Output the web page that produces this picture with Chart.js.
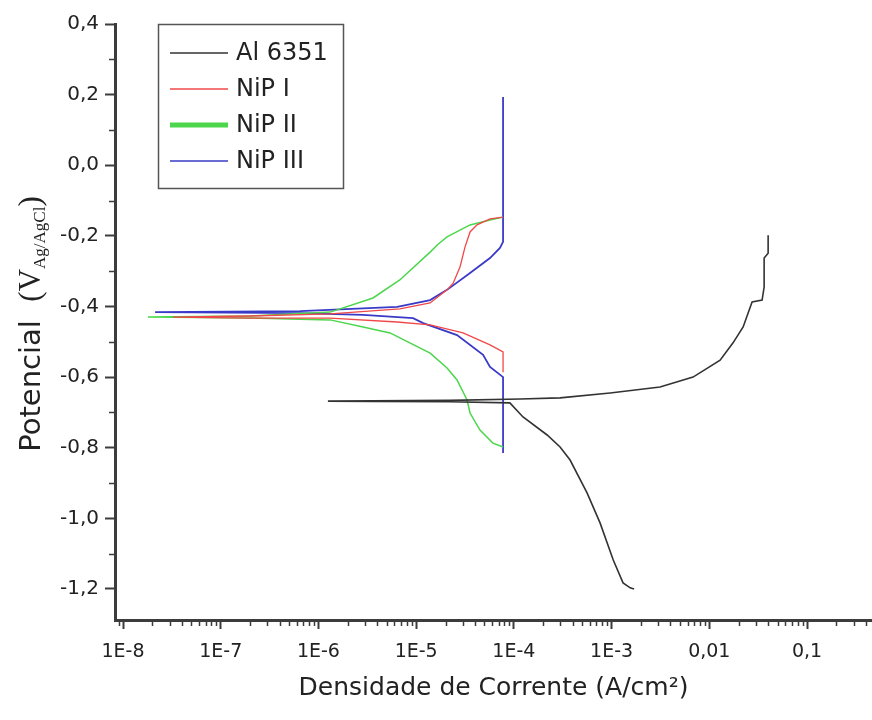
<!DOCTYPE html>
<html>
<head>
<meta charset="utf-8">
<script src="https://cdn.jsdelivr.net/npm/chart.js@4/dist/chart.umd.min.js"></script>
<style>
  body { margin: 0; background: #fff; }
  #wrap { width: 872px; height: 720px; }
</style>
</head>
<body>
<div id="wrap"><canvas id="tafel" width="872" height="720"></canvas></div>
<script>
// current density (A/cm2) and potential (V vs Ag/AgCl)
const al6351I = [1.70e-3, 1.55e-3, 1.31e-3, 1.04e-3, 7.62e-4, 5.61e-4, 3.76e-4, 2.97e-4, 2.19e-4, 1.24e-4, 9.1e-5, 2.22e-5, 3.62e-6, 1.25e-6, 3.62e-6, 2.22e-5, 1.16e-4, 2.97e-4, 9.66e-4, 3.13e-3, 6.82e-3, 1.29e-2, 1.75e-2, 2.22e-2, 2.74e-2, 3.47e-2, 3.64e-2, 3.64e-2, 4.0e-2, 4.0e-2];
const al6351E = [-1.200, -1.197, -1.183, -1.118, -1.013, -0.928, -0.835, -0.798, -0.764, -0.713, -0.673, -0.670, -0.669, -0.668, -0.667, -0.666, -0.662, -0.659, -0.645, -0.628, -0.600, -0.552, -0.503, -0.458, -0.387, -0.382, -0.345, -0.263, -0.249, -0.198];

const nip1I = [7.75e-5, 7.75e-5, 5.7e-5, 3.02e-5, 1.39e-5, 6.4e-6, 1.32e-6, 2.0e-7, 3.25e-8, 2.0e-7, 1.32e-6, 6.8e-6, 1.39e-5, 2.07e-5, 2.39e-5, 2.81e-5, 3.16e-5, 3.56e-5, 4.2e-5, 5.7e-5, 7.75e-5];
const nip1E = [-0.586, -0.529, -0.509, -0.475, -0.452, -0.444, -0.433, -0.433, -0.430, -0.427, -0.421, -0.407, -0.390, -0.353, -0.334, -0.288, -0.232, -0.189, -0.169, -0.152, -0.147];

const nip2I = [7.75e-5, 6.1e-5, 4.5e-5, 3.56e-5, 3.32e-5, 2.62e-5, 2.07e-5, 1.39e-5, 5.4e-6, 2.86e-6, 1.32e-6, 2.0e-7, 1.8e-8, 2.0e-7, 1.32e-6, 3.62e-6, 6.8e-6, 1.39e-5, 1.64e-5, 2.07e-5, 3.56e-5, 5.7e-5, 7.75e-5];
const nip2E = [-0.798, -0.787, -0.750, -0.702, -0.665, -0.608, -0.574, -0.532, -0.475, -0.458, -0.438, -0.433, -0.430, -0.427, -0.416, -0.376, -0.325, -0.246, -0.226, -0.203, -0.169, -0.155, -0.147];

const nip3I = [7.75e-5, 7.75e-5, 5.7e-5, 4.84e-5, 2.62e-5, 1.18e-5, 9.3e-6, 2.86e-6, 6.5e-7, 2.13e-8, 6.5e-7, 6.4e-6, 1.39e-5, 2.07e-5, 3.56e-5, 5.7e-5, 7.2e-5, 7.75e-5, 7.75e-5];
const nip3E = [-0.815, -0.600, -0.571, -0.537, -0.481, -0.447, -0.433, -0.424, -0.419, -0.416, -0.413, -0.401, -0.382, -0.353, -0.305, -0.263, -0.234, -0.217, 0.193];

const xTickValues = [1e-8, 1e-7, 1e-6, 1e-5, 1e-4, 1e-3, 1e-2, 1e-1];
const xTickLabels = ['1E-8', '1E-7', '1E-6', '1E-5', '1E-4', '1E-3', '0,01', '0,1'];
const yTickValues = [0.4, 0.2, 0.0, -0.2, -0.4, -0.6, -0.8, -1.0, -1.2];
const yTickLabels = ['0,4', '0,2', '0,0', '-0,2', '-0,4', '-0,6', '-0,8', '-1,0', '-1,2'];
const yMinorValues = [0.3, 0.1, -0.1, -0.3, -0.5, -0.7, -0.9, -1.1];

const toPoints = (xs, ys) => xs.map((x, i) => ({ x: x, y: ys[i] }));

// minor decade ticks 2..9
const xMinorValues = [9e-9];
for (let e = -8; e <= -1; e++) {
  for (let k = 2; k <= 9; k++) xMinorValues.push(k * Math.pow(10, e));
}

const axisColor = '#3c3c3c';
const textColor = '#222';

const minorTicks = {
  id: 'minorTicks',
  afterDraw(chart) {
    const { ctx, scales: { x, y } } = chart;
    ctx.save();
    ctx.strokeStyle = axisColor;
    ctx.lineWidth = 1.5;
    ctx.beginPath();
    xMinorValues.forEach(v => {
      if (v < x.min || v > x.max) return;
      const px = Math.round(x.getPixelForValue(v)) + 0.5;
      ctx.moveTo(px, x.top);
      ctx.lineTo(px, x.top + 6);
    });
    yMinorValues.forEach(v => {
      const py = Math.round(y.getPixelForValue(v)) + 0.5;
      ctx.moveTo(y.right - 6, py);
      ctx.lineTo(y.right, py);
    });
    ctx.stroke();
    ctx.restore();
  }
};

// y title with the Ag/AgCl subscript
const yTitle = {
  id: 'yTitle',
  afterDraw(chart) {
    const { ctx, chartArea } = chart;
    const parts = [
      { t: 'Potencial  ', f: '29px "DejaVu Sans"', dy: 0 },
      { t: '(V', f: '31px "Liberation Serif"', dy: 0 },
      { t: 'Ag/AgCl', f: '17px "Liberation Serif"', dy: 5 },
      { t: ')', f: '31px "Liberation Serif"', dy: 0 }
    ];
    ctx.save();
    let total = 0;
    parts.forEach(p => { ctx.font = p.f; p.w = ctx.measureText(p.t).width; total += p.w; });
    ctx.translate(40, (chartArea.top + chartArea.bottom) / 2 + 2);
    ctx.rotate(-Math.PI / 2);
    ctx.fillStyle = textColor;
    ctx.textBaseline = 'alphabetic';
    let cx = -total / 2;
    parts.forEach(p => {
      ctx.font = p.f;
      ctx.fillText(p.t, cx, p.dy);
      cx += p.w;
    });
    ctx.restore();
  }
};

const legendBox = {
  id: 'legendBox',
  afterDraw(chart) {
    const { ctx } = chart;
    const left = 158, top = 24, w = 185, h = 164;
    ctx.save();
    ctx.fillStyle = '#fff';
    ctx.fillRect(left, top, w, h);
    ctx.strokeStyle = '#555';
    ctx.lineWidth = 1.5;
    ctx.strokeRect(left + 0.5, top + 0.5, w, h);
    ctx.font = '24px "DejaVu Sans"';
    ctx.textBaseline = 'middle';
    chart.data.datasets.forEach((ds, i) => {
      const yy = top + 29 + i * 36;
      ctx.strokeStyle = ds.borderColor;
      ctx.lineWidth = ds.legendWidth;
      ctx.beginPath();
      ctx.moveTo(170, yy);
      ctx.lineTo(228, yy);
      ctx.stroke();
      ctx.fillStyle = textColor;
      ctx.fillText(ds.label, 236, yy + 1);
    });
    ctx.restore();
  }
};

new Chart(document.getElementById('tafel'), {
  type: 'scatter',
  data: {
    datasets: [
      { label: 'Al 6351', data: toPoints(al6351I, al6351E), borderColor: '#333333', borderWidth: 1.6, legendWidth: 1.5 },
      { label: 'NiP I', data: toPoints(nip1I, nip1E), borderColor: '#f04848', borderWidth: 1.3, legendWidth: 1.5 },
      { label: 'NiP II', data: toPoints(nip2I, nip2E), borderColor: '#4cd64c', borderWidth: 1.5, legendWidth: 5 },
      { label: 'NiP III', data: toPoints(nip3I, nip3E), borderColor: '#3a3ac8', borderWidth: 1.8, legendWidth: 1.5 }
    ]
  },
  options: {
    responsive: false,
    animation: false,
    showLine: true,
    layout: { padding: { top: 24, left: 0, right: 0, bottom: 0 } },
    elements: { point: { radius: 0 }, line: { tension: 0, fill: false } },
    plugins: { legend: { display: false }, tooltip: { enabled: false } },
    scales: {
      x: {
        type: 'logarithmic',
        min: Math.pow(10, -8.082),
        max: Math.pow(10, -0.335),
        afterBuildTicks: (scale) => { scale.ticks = xTickValues.map(v => ({ value: v })); },
        afterFit: (scale) => { scale.height = 100; },
        border: { color: axisColor, width: 3 },
        grid: { drawOnChartArea: false, drawTicks: true, tickLength: 9, tickColor: axisColor, tickWidth: 2 },
        ticks: {
          autoSkip: false, maxRotation: 0, padding: 12,
          color: textColor, font: { family: 'DejaVu Sans', size: 19 },
          callback: (v, i) => xTickLabels[i]
        },
        title: {
          display: true, text: 'Densidade de Corrente (A/cm²)', color: textColor,
          font: { family: 'DejaVu Sans', size: 25 }, padding: { top: 0, bottom: 17 }
        }
      },
      y: {
        type: 'linear',
        min: -1.288,
        max: 0.4,
        afterBuildTicks: (scale) => { scale.ticks = yTickValues.map(v => ({ value: v })); },
        afterFit: (scale) => { scale.width = 115; },
        border: { color: axisColor, width: 3 },
        grid: { drawOnChartArea: false, drawTicks: true, tickLength: 10, tickColor: axisColor, tickWidth: 2 },
        ticks: {
          autoSkip: false, padding: 6,
          color: textColor, font: { family: 'DejaVu Sans', size: 20 },
          callback: (v, i) => yTickLabels[i]
        }
      }
    }
  },
  plugins: [minorTicks, yTitle, legendBox]
});
</script>
</body>
</html>
